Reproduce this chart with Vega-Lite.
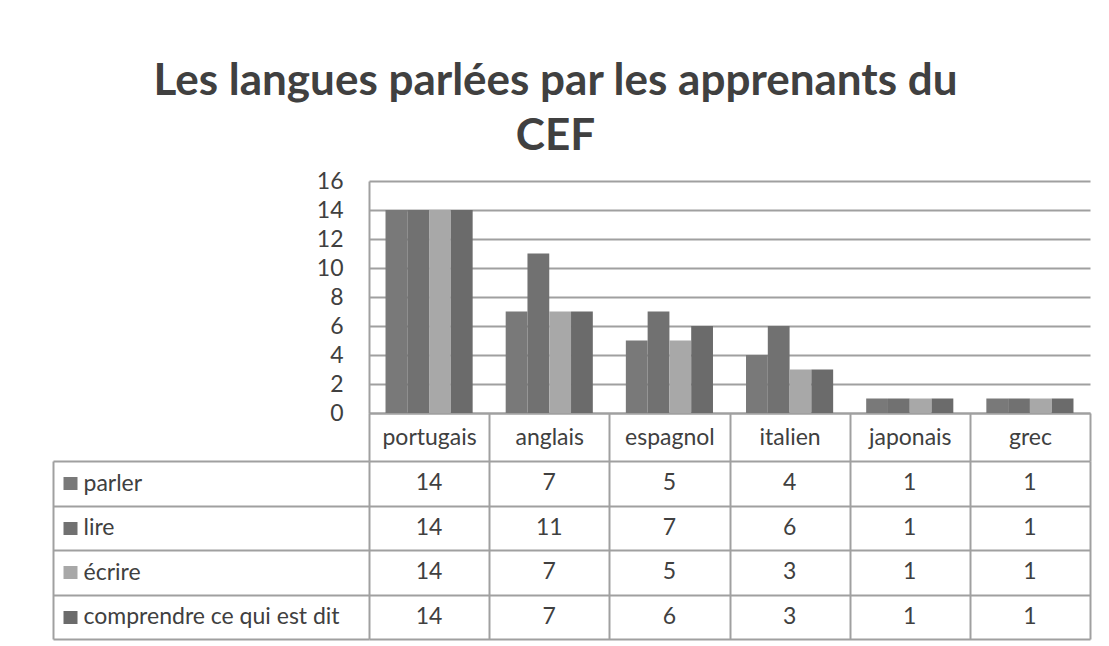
{
  "$schema": "https://vega.github.io/schema/vega-lite/v6.json",
  "padding": {"left": 52, "top": 60, "right": 16, "bottom": 5},
  "background": "white",
  "config": {
    "view": {"stroke": null},
    "font": "Lato",
    "axis": {"labelFont": "Lato", "labelColor": "#404040", "labelFontSize": 23, "labelLimit": 0}
  },
  "title": {
    "text": ["Les langues parlées par les apprenants du", "CEF"],
    "font": "Lato",
    "fontSize": 44,
    "fontWeight": "bold",
    "color": "#404040",
    "lineHeight": 55,
    "anchor": "middle",
    "frame": "group",
    "dx": -174,
    "offset": 11
  },
  "datasets": {
    "langues": [
      {"langue": "portugais", "serie": "parler", "valeur": 14},
      {"langue": "portugais", "serie": "lire", "valeur": 14},
      {"langue": "portugais", "serie": "écrire", "valeur": 14},
      {"langue": "portugais", "serie": "comprendre ce qui est dit", "valeur": 14},
      {"langue": "anglais", "serie": "parler", "valeur": 7},
      {"langue": "anglais", "serie": "lire", "valeur": 11},
      {"langue": "anglais", "serie": "écrire", "valeur": 7},
      {"langue": "anglais", "serie": "comprendre ce qui est dit", "valeur": 7},
      {"langue": "espagnol", "serie": "parler", "valeur": 5},
      {"langue": "espagnol", "serie": "lire", "valeur": 7},
      {"langue": "espagnol", "serie": "écrire", "valeur": 5},
      {"langue": "espagnol", "serie": "comprendre ce qui est dit", "valeur": 6},
      {"langue": "italien", "serie": "parler", "valeur": 4},
      {"langue": "italien", "serie": "lire", "valeur": 6},
      {"langue": "italien", "serie": "écrire", "valeur": 3},
      {"langue": "italien", "serie": "comprendre ce qui est dit", "valeur": 3},
      {"langue": "japonais", "serie": "parler", "valeur": 1},
      {"langue": "japonais", "serie": "lire", "valeur": 1},
      {"langue": "japonais", "serie": "écrire", "valeur": 1},
      {"langue": "japonais", "serie": "comprendre ce qui est dit", "valeur": 1},
      {"langue": "grec", "serie": "parler", "valeur": 1},
      {"langue": "grec", "serie": "lire", "valeur": 1},
      {"langue": "grec", "serie": "écrire", "valeur": 1},
      {"langue": "grec", "serie": "comprendre ce qui est dit", "valeur": 1}
    ]
  },
  "spacing": 48,
  "bounds": "flush",
  "vconcat": [
    {
      "width": 721,
      "height": 232,
      "data": {"name": "langues"},
      "mark": {"type": "bar"},
      "encoding": {
        "x": {
          "field": "langue", "type": "nominal",
          "sort": ["portugais", "anglais", "espagnol", "italien", "japonais", "grec"],
          "scale": {"paddingInner": 0, "paddingOuter": 0},
          "axis": {
            "title": null, "labelAngle": 0, "grid": false,
            "tickBand": "extent", "tickSize": 48, "tickColor": "#a0a0a0", "tickWidth": 2,
            "domainColor": "#a0a0a0", "domainWidth": 2,
            "labelPadding": -24, "labelBaseline": "middle", "labelAlign": "center"
          }
        },
        "xOffset": {
          "field": "serie", "type": "nominal",
          "sort": ["parler", "lire", "écrire", "comprendre ce qui est dit"],
          "scale": {"paddingInner": 0, "paddingOuter": 0.758}
        },
        "y": {
          "field": "valeur", "type": "quantitative",
          "scale": {"domain": [0, 16], "nice": false},
          "axis": {
            "title": null, "values": [0, 2, 4, 6, 8, 10, 12, 14, 16],
            "ticks": false, "labelPadding": 26, "grid": true,
            "gridColor": "#a0a0a0", "gridWidth": 2,
            "domainColor": "#a0a0a0", "domainWidth": 2
          }
        },
        "color": {
          "field": "serie", "type": "nominal",
          "scale": {
            "domain": ["parler", "lire", "écrire", "comprendre ce qui est dit"],
            "range": ["#797979", "#717171", "#a8a8a8", "#6b6b6b"]
          },
          "legend": null
        }
      }
    },
    {
      "width": 721,
      "height": 178,
      "data": {"name": "langues"},
      "resolve": {"scale": {"y": "independent"}, "axis": {"y": "independent"}},
      "layer": [
        {
          "mark": {"type": "rect", "opacity": 0},
          "encoding": {
            "x": {
              "field": "langue", "type": "nominal",
              "sort": ["portugais", "anglais", "espagnol", "italien", "japonais", "grec"],
              "scale": {"paddingInner": 0, "paddingOuter": 0},
              "axis": {
                "title": null, "labels": false, "ticks": false, "domain": false,
                "grid": true, "tickBand": "extent", "gridColor": "#a0a0a0", "gridWidth": 2
              }
            },
            "y": {
              "field": "serie", "type": "nominal",
              "sort": ["parler", "lire", "écrire", "comprendre ce qui est dit"],
              "scale": {"paddingInner": 0, "paddingOuter": 0},
              "axis": {
                "title": null, "orient": "left", "offset": 316,
                "tickBand": "extent", "tickSize": -316, "tickColor": "#a0a0a0", "tickWidth": 2,
                "labels": false, "domain": true, "domainColor": "#a0a0a0", "domainWidth": 2,
                "grid": true, "gridColor": "#a0a0a0", "gridWidth": 2
              }
            }
          }
        },
        {
          "mark": {"type": "text", "font": "Lato", "fontSize": 23, "color": "#404040", "baseline": "middle"},
          "encoding": {
            "x": {
              "field": "langue", "type": "nominal",
              "sort": ["portugais", "anglais", "espagnol", "italien", "japonais", "grec"]
            },
            "y": {
              "field": "serie", "type": "nominal",
              "sort": ["parler", "lire", "écrire", "comprendre ce qui est dit"],
              "scale": {"paddingInner": 0, "paddingOuter": 0},
              "axis": {
                "title": null, "orient": "left", "offset": 292,
                "domain": false, "grid": false, "ticks": true,
                "tickSize": 14, "tickWidth": 13,
                "tickColor": {
                  "condition": [
                    {"test": "datum.value === 'parler'", "value": "#797979"},
                    {"test": "datum.value === 'lire'", "value": "#717171"},
                    {"test": "datum.value === 'écrire'", "value": "#a8a8a8"}
                  ],
                  "value": "#6b6b6b"
                },
                "labelAlign": "left", "labelPadding": -20, "labelBaseline": "middle"
              }
            },
            "text": {"field": "valeur", "type": "quantitative"}
          }
        }
      ]
    }
  ]
}
